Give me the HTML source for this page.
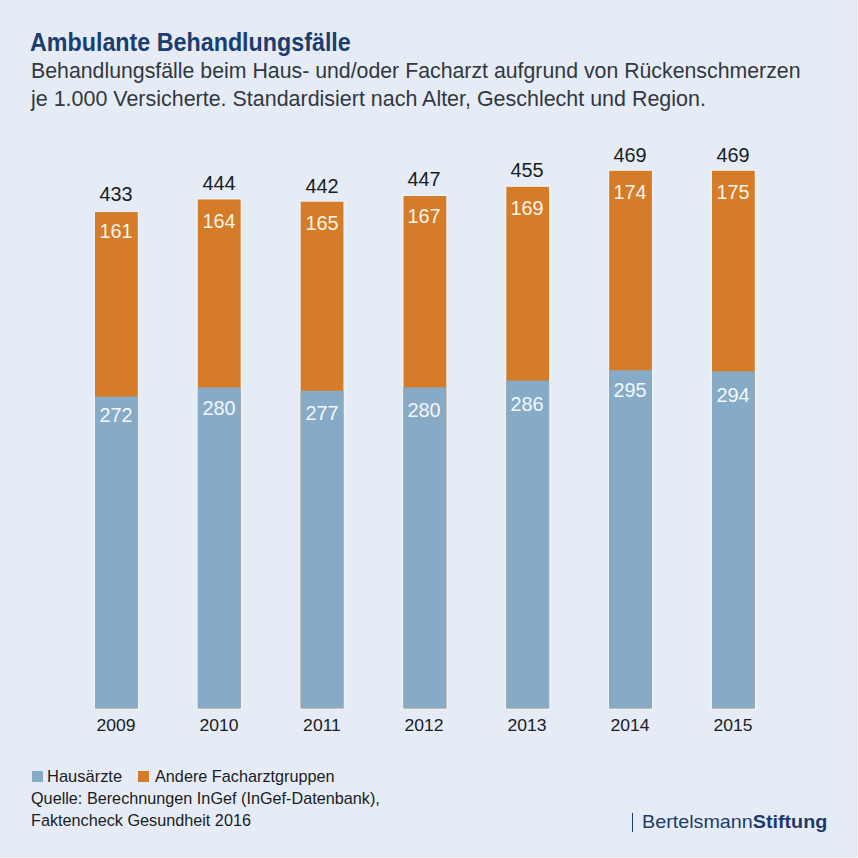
<!DOCTYPE html>
<html><head><meta charset="utf-8"><style>
html,body{margin:0;padding:0}
body{width:858px;height:858px;background:#e5ecf5;position:relative;overflow:hidden;font-family:"Liberation Sans",sans-serif}
.tx{position:absolute;white-space:nowrap;line-height:1;transform-origin:0 0}
.b{position:absolute;width:43px}
.lb{position:absolute;width:80px;text-align:center;line-height:1;white-space:nowrap;transform-origin:50% 0}
.sq{position:absolute;width:11px;height:11px;top:771px}
</style></head><body>
<div class="tx" style="left:30.17px;top:29.62px;font-size:25.0px;transform:scaleX(0.9312);color:#1c3d6f;font-weight:bold">Ambulante Behandlungsfälle</div>
<div class="tx" style="left:30.61px;top:61.3px;font-size:21.37px;transform:scaleX(0.9971);color:#33373e;">Behandlungsfälle beim Haus- und/oder Facharzt aufgrund von Rückenschmerzen</div>
<div class="tx" style="left:30.5px;top:89.1px;font-size:21.37px;transform:scaleX(1.0042);color:#33373e;">je 1.000 Versicherte. Standardisiert nach Alter, Geschlecht und Region.</div>
<svg width="858" height="858" style="position:absolute;left:0;top:0"><rect x="93.80" y="210.85" width="45.2" height="498.70" fill="#eef4fa"/><rect x="95.00" y="212.05" width="42.8" height="496.30" fill="#d57c28"/><rect x="95.00" y="396.58" width="42.8" height="311.77" fill="#87abc7"/><rect x="196.63" y="198.24" width="45.2" height="511.31" fill="#eef4fa"/><rect x="197.83" y="199.44" width="42.8" height="508.91" fill="#d57c28"/><rect x="197.83" y="387.41" width="42.8" height="320.94" fill="#87abc7"/><rect x="299.46" y="200.53" width="45.2" height="509.02" fill="#eef4fa"/><rect x="300.66" y="201.73" width="42.8" height="506.62" fill="#d57c28"/><rect x="300.66" y="390.85" width="42.8" height="317.50" fill="#87abc7"/><rect x="402.29" y="194.80" width="45.2" height="514.75" fill="#eef4fa"/><rect x="403.49" y="196.00" width="42.8" height="512.35" fill="#d57c28"/><rect x="403.49" y="387.41" width="42.8" height="320.94" fill="#87abc7"/><rect x="505.12" y="185.63" width="45.2" height="523.92" fill="#eef4fa"/><rect x="506.32" y="186.83" width="42.8" height="521.52" fill="#d57c28"/><rect x="506.32" y="380.54" width="42.8" height="327.81" fill="#87abc7"/><rect x="607.95" y="169.58" width="45.2" height="539.97" fill="#eef4fa"/><rect x="609.15" y="170.78" width="42.8" height="537.57" fill="#d57c28"/><rect x="609.15" y="370.22" width="42.8" height="338.13" fill="#87abc7"/><rect x="710.78" y="169.58" width="45.2" height="539.97" fill="#eef4fa"/><rect x="711.98" y="170.78" width="42.8" height="537.57" fill="#d57c28"/><rect x="711.98" y="371.37" width="42.8" height="336.98" fill="#87abc7"/></svg>
<div class="lb" style="left:76.00px;top:185.35px;font-size:19.3px;color:#1a1c1f;transform:scaleX(1.03)">433</div>
<div class="lb" style="left:76.00px;top:222.35px;font-size:19.3px;color:#fcf4e8;transform:scaleX(1.03)">161</div>
<div class="lb" style="left:76.00px;top:405.55px;font-size:19.3px;color:#f3f8fc;transform:scaleX(1.03)">272</div>
<div class="lb" style="left:76.00px;top:717.67px;font-size:16.57px;color:#1a1c1f;transform:scaleX(1.06)">2009</div>
<div class="lb" style="left:178.83px;top:174.35px;font-size:19.3px;color:#1a1c1f;transform:scaleX(1.03)">444</div>
<div class="lb" style="left:178.83px;top:212.15px;font-size:19.3px;color:#fcf4e8;transform:scaleX(1.03)">164</div>
<div class="lb" style="left:178.83px;top:399.45px;font-size:19.3px;color:#f3f8fc;transform:scaleX(1.03)">280</div>
<div class="lb" style="left:178.83px;top:717.67px;font-size:16.57px;color:#1a1c1f;transform:scaleX(1.06)">2010</div>
<div class="lb" style="left:281.66px;top:177.05px;font-size:19.3px;color:#1a1c1f;transform:scaleX(1.03)">442</div>
<div class="lb" style="left:281.66px;top:214.25px;font-size:19.3px;color:#fcf4e8;transform:scaleX(1.03)">165</div>
<div class="lb" style="left:281.66px;top:404.15px;font-size:19.3px;color:#f3f8fc;transform:scaleX(1.03)">277</div>
<div class="lb" style="left:281.66px;top:717.67px;font-size:16.57px;color:#1a1c1f;transform:scaleX(1.06)">2011</div>
<div class="lb" style="left:384.49px;top:170.15px;font-size:19.3px;color:#1a1c1f;transform:scaleX(1.03)">447</div>
<div class="lb" style="left:384.49px;top:207.25px;font-size:19.3px;color:#fcf4e8;transform:scaleX(1.03)">167</div>
<div class="lb" style="left:384.49px;top:401.45px;font-size:19.3px;color:#f3f8fc;transform:scaleX(1.03)">280</div>
<div class="lb" style="left:384.49px;top:717.67px;font-size:16.57px;color:#1a1c1f;transform:scaleX(1.06)">2012</div>
<div class="lb" style="left:487.32px;top:161.15px;font-size:19.3px;color:#1a1c1f;transform:scaleX(1.03)">455</div>
<div class="lb" style="left:487.32px;top:198.95px;font-size:19.3px;color:#fcf4e8;transform:scaleX(1.03)">169</div>
<div class="lb" style="left:487.32px;top:395.15px;font-size:19.3px;color:#f3f8fc;transform:scaleX(1.03)">286</div>
<div class="lb" style="left:487.32px;top:717.67px;font-size:16.57px;color:#1a1c1f;transform:scaleX(1.06)">2013</div>
<div class="lb" style="left:590.15px;top:146.45px;font-size:19.3px;color:#1a1c1f;transform:scaleX(1.03)">469</div>
<div class="lb" style="left:590.15px;top:183.25px;font-size:19.3px;color:#fcf4e8;transform:scaleX(1.03)">174</div>
<div class="lb" style="left:590.15px;top:380.55px;font-size:19.3px;color:#f3f8fc;transform:scaleX(1.03)">295</div>
<div class="lb" style="left:590.15px;top:717.67px;font-size:16.57px;color:#1a1c1f;transform:scaleX(1.06)">2014</div>
<div class="lb" style="left:692.98px;top:146.35px;font-size:19.3px;color:#1a1c1f;transform:scaleX(1.03)">469</div>
<div class="lb" style="left:692.98px;top:182.65px;font-size:19.3px;color:#fcf4e8;transform:scaleX(1.03)">175</div>
<div class="lb" style="left:692.98px;top:386.45px;font-size:19.3px;color:#f3f8fc;transform:scaleX(1.03)">294</div>
<div class="lb" style="left:692.98px;top:717.67px;font-size:16.57px;color:#1a1c1f;transform:scaleX(1.06)">2015</div>
<div class="sq" style="left:32px;background:#87abc7"></div>
<div class="tx" style="left:46.67px;top:769.26px;font-size:15.99px;transform:scaleX(1.031);color:#1a1c1f;">Hausärzte</div>
<div class="sq" style="left:138px;background:#d57c28"></div>
<div class="tx" style="left:155.0px;top:769.26px;font-size:15.99px;transform:scaleX(1.0159);color:#1a1c1f;">Andere Facharztgruppen</div>
<div class="tx" style="left:31.09px;top:790.86px;font-size:15.99px;transform:scaleX(1.0144);color:#1a1c1f;">Quelle: Berechnungen InGef (InGef-Datenbank),</div>
<div class="tx" style="left:31.09px;top:812.43px;font-size:16.13px;transform:scaleX(1.0065);color:#1a1c1f;">Faktencheck Gesundheit 2016</div>
<div style="position:absolute;left:631.5px;top:813px;width:1.8px;height:19px;background:#1c3b6b"></div>
<div class="tx" style="left:642.49px;top:814.18px;font-size:17.73px;transform:scaleX(1.1134);color:#1c3b6b;">Bertelsmann<b>Stiftung</b></div>
<div style="position:absolute;left:856px;top:0;width:1px;height:858px;background:#e0e6ee"></div>
<div style="position:absolute;left:857px;top:0;width:1px;height:858px;background:#f1f5fa"></div>
<div style="position:absolute;left:0;top:856px;width:857px;height:1px;background:#e0e6ee"></div>
<div style="position:absolute;left:0;top:857px;width:858px;height:1px;background:#f1f5fa"></div>
</body></html>
